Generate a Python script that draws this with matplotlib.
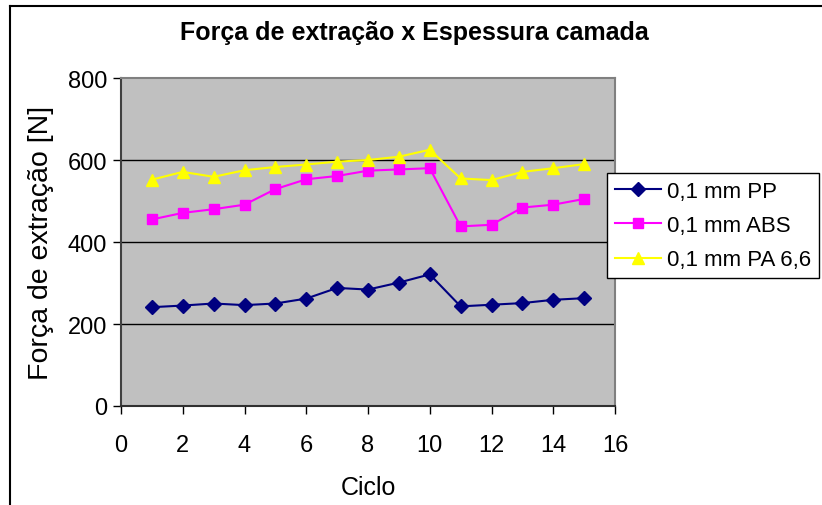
import matplotlib
matplotlib.use('Agg')
import matplotlib.pyplot as plt
from matplotlib.lines import Line2D

plt.rcParams['font.family'] = ['Liberation Sans', 'DejaVu Sans']

ciclo = list(range(1, 16))
pp = [241, 245, 250, 246, 250, 262, 288, 284, 301, 321, 243, 247, 251, 259, 263]
abs_ = [455, 471, 480, 491, 529, 553, 561, 574, 577, 580, 438, 442, 484, 491, 505]
pa66 = [552, 571, 559, 575, 583, 589, 596, 600, 608, 625, 555, 551, 571, 580, 590]
labels = ['0,1 mm PP', '0,1 mm ABS', '0,1 mm PA 6,6']
x_ticks = [0, 2, 4, 6, 8, 10, 12, 14, 16]
y_ticks = [0, 200, 400, 600, 800]

W, H = 822, 506
fig = plt.figure(figsize=(W / 100, H / 100), dpi=100)
ax = fig.add_axes([121 / W, 1 - 407 / H, (615 - 121) / W, (407 - 79) / H])
ax.set_facecolor('#C0C0C0')

ax.plot(ciclo, pp, color='#000080', lw=1.5, marker='D', ms=7,
        mfc='#000080', mec='#000080', label=labels[0], zorder=3)
ax.plot(ciclo, abs_, color='#FF00FF', lw=1.5, marker='s', ms=7,
        mfc='#FF00FF', mec='#FF00FF', label=labels[1], zorder=3)
ax.plot(ciclo, pa66, color='#FFFF00', lw=1.5, marker='^', ms=9,
        mfc='#FFFF00', mec='#FFFF00', label=labels[2], zorder=3)

ax.set_xlim(0, 16)
ax.set_ylim(0, 800)
ax.set_xticks(x_ticks)
ax.set_yticks(y_ticks)
ax.tick_params(labelsize=17, direction='out', length=6, width=1, color='black', pad=4)
ax.tick_params(axis='x', pad=14)
for y in y_ticks[1:-1]:
    ax.axhline(y, color='black', lw=1, zorder=1)

ax.spines['top'].set_color('#808080')
ax.spines['right'].set_color('#808080')
ax.spines['left'].set_color('#404040')
ax.spines['bottom'].set_color('#303030')
for s in ax.spines.values():
    s.set_linewidth(1.5)

ax.set_xlabel('Ciclo', fontsize=18, labelpad=14)
ax.set_ylabel('Força de extração [N]', fontsize=20.5, labelpad=10)
fig.text(414 / W, 1 - 33 / H, 'Força de extração x Espessura camada',
         fontsize=18, fontweight='bold', ha='center', va='center')

leg = ax.legend(loc='upper left', bbox_to_anchor=(607 / W, 1 - 174 / H),
                bbox_transform=fig.transFigure, borderaxespad=0,
                fancybox=False, edgecolor='black', framealpha=1,
                fontsize=16, handlelength=2.1, handletextpad=0.25,
                labelspacing=0.6, borderpad=0.35)
leg.get_frame().set_linewidth(1)

# outer chart frame
fig.add_artist(Line2D([10 / W, 1], [1 - 7 / H, 1 - 7 / H], color='black', lw=1.5,
                      transform=fig.transFigure))
fig.add_artist(Line2D([10 / W, 10 / W], [0, 1 - 7 / H], color='black', lw=1.5,
                      transform=fig.transFigure))

fig.savefig('out.png', dpi=100)
